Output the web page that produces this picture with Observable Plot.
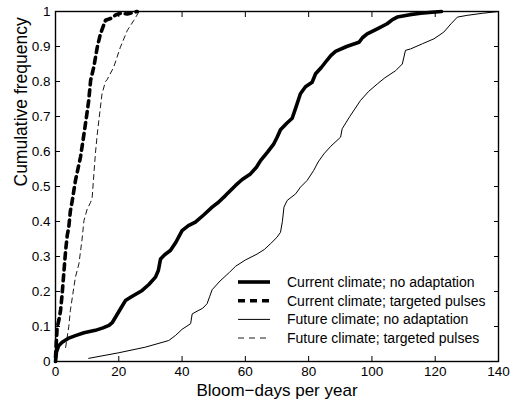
<!DOCTYPE html>
<html>
<head>
<meta charset="utf-8">
<script src="https://cdn.jsdelivr.net/npm/d3@7"></script>
<script src="https://cdn.jsdelivr.net/npm/@observablehq/plot@0.6"></script>
<style>
  html, body { margin: 0; padding: 0; background: white; }
  #chart { width: 515px; height: 400px; position: relative; }
</style>
</head>
<body>
<div id="chart"></div>
<script>
// ---- Data ----
const seriesNames = [
  "Current climate; no adaptation",
  "Current climate; targeted pulses",
  "Future climate; no adaptation",
  "Future climate; targeted pulses"
];

const currentNoAdaptX = [0, 0.3, 1, 2.1, 4, 6.3, 9, 12.6, 15, 16.9, 18, 19, 20.5, 22.1, 24, 27.4, 29.5, 31.6, 32.5, 33.2, 34.5, 36.3, 38, 40, 42, 44.2, 47, 49.5, 51.5, 53.7, 56.9, 59, 61.6, 63.5, 64.8, 67, 69, 70, 71.1, 73, 74.8, 76, 77.4, 79, 81.1, 82.2, 84, 85.3, 87, 88.5, 92, 95.9, 97, 98.5, 102, 104.8, 106.5, 108, 112, 115.4, 119, 122];
const currentNoAdaptY = [0, 0.027, 0.045, 0.055, 0.066, 0.074, 0.082, 0.089, 0.096, 0.103, 0.112, 0.127, 0.15, 0.174, 0.185, 0.203, 0.22, 0.241, 0.26, 0.293, 0.305, 0.317, 0.34, 0.374, 0.388, 0.398, 0.42, 0.441, 0.455, 0.474, 0.503, 0.52, 0.536, 0.555, 0.574, 0.598, 0.622, 0.64, 0.662, 0.68, 0.695, 0.727, 0.765, 0.785, 0.798, 0.822, 0.84, 0.855, 0.874, 0.886, 0.9, 0.912, 0.925, 0.936, 0.952, 0.965, 0.977, 0.984, 0.991, 0.995, 0.998, 1.0];

const currentPulsesX = [0, 0.5, 1.1, 1.6, 2.1, 2.6, 3.2, 3.7, 4.2, 4.7, 5.3, 6.3, 7.9, 9.0, 9.8, 10.5, 11.1, 12.1, 13.2, 14.2, 15.8, 17.4, 19, 20.5, 22.7, 25.8];
const currentPulsesY = [0.012, 0.095, 0.12, 0.146, 0.193, 0.25, 0.317, 0.36, 0.384, 0.43, 0.46, 0.517, 0.584, 0.65, 0.7, 0.746, 0.803, 0.841, 0.898, 0.936, 0.975, 0.98, 0.99, 0.995, 0.993, 1.0];

const futureNoAdaptX = [10.5, 20, 28.4, 35.8, 38, 40, 42.7, 43.2, 45, 46.5, 47.9, 48.7, 49.5, 52, 55, 56.9, 60, 63.7, 66, 67.9, 70, 71.1, 71.7, 72.2, 73.2, 75.9, 77.4, 79.5, 81.6, 83, 84.8, 87, 90.1, 90.6, 93, 96.4, 99, 101.7, 104, 107.5, 109.6, 110.6, 112.2, 116, 119.6, 122.7, 125, 127, 130.1, 135, 140];
const futureNoAdaptY = [0.009, 0.025, 0.041, 0.06, 0.075, 0.092, 0.108, 0.136, 0.145, 0.152, 0.165, 0.185, 0.205, 0.23, 0.255, 0.272, 0.29, 0.307, 0.32, 0.336, 0.355, 0.369, 0.4, 0.441, 0.46, 0.479, 0.498, 0.517, 0.546, 0.57, 0.593, 0.615, 0.641, 0.665, 0.7, 0.746, 0.772, 0.793, 0.81, 0.831, 0.85, 0.889, 0.893, 0.908, 0.922, 0.941, 0.965, 0.984, 0.989, 0.995, 1.0];

const futurePulsesX = [3.2, 4.2, 4.7, 5.8, 6.3, 7.4, 8.4, 9.0, 10.0, 11.1, 11.6, 12.6, 13.2, 14.7, 15.8, 16.3, 18.4, 20.5, 22.7, 24.7, 26.3, 27];
const futurePulsesY = [0.04, 0.1, 0.146, 0.212, 0.241, 0.279, 0.35, 0.403, 0.435, 0.455, 0.47, 0.593, 0.65, 0.765, 0.8, 0.805, 0.841, 0.898, 0.946, 0.974, 0.998, 1.0];

const xTicks = [0, 20, 40, 60, 80, 100, 120, 140];
const xTickLabels = ["0", "20", "40", "60", "80", "100", "120", "140"];
const yTicks = [0, 0.1, 0.2, 0.3, 0.4, 0.5, 0.6, 0.7, 0.8, 0.9, 1];
const yTickLabels = ["0", "0.1", "0.2", "0.3", "0.4", "0.5", "0.6", "0.7", "0.8", "0.9", "1"];
const xTitle = "Bloom\u2212days per year";
const yTitle = "Cumulative frequency";

// ---- Build tables ----
const zip = (xs, ys) => xs.map((x, i) => ({x, y: ys[i]}));
const curNo = zip(currentNoAdaptX, currentNoAdaptY);
const curPul = zip(currentPulsesX, currentPulsesY);
const futNo = zip(futureNoAdaptX, futureNoAdaptY);
const futPul = zip(futurePulsesX, futurePulsesY);

const styles = [
  {strokeWidth: 3.6, dash: null},
  {strokeWidth: 3.6, dash: "6,5"},
  {strokeWidth: 1, dash: null},
  {strokeWidth: 0.9, dash: "5,4"}
];

const font = "'Liberation Sans', Arial, Helvetica, sans-serif";

const chart = Plot.plot({
  width: 515,
  height: 400,
  marginLeft: 55,
  marginRight: 17,
  marginTop: 11,
  marginBottom: 39,
  style: {fontFamily: font, fontSize: "13px", color: "black", background: "white", overflow: "visible"},
  x: {domain: [0, 140]},
  y: {domain: [0, 1]},
  marks: [
    Plot.line(curNo, {x: "x", y: "y", stroke: "black", strokeWidth: styles[0].strokeWidth, strokeLinejoin: "round", strokeLinecap: "round"}),
    Plot.line(curPul, {x: "x", y: "y", stroke: "black", strokeWidth: styles[1].strokeWidth, strokeDasharray: styles[1].dash}),
    Plot.line(futNo, {x: "x", y: "y", stroke: "black", strokeWidth: styles[2].strokeWidth}),
    Plot.line(futPul, {x: "x", y: "y", stroke: "black", strokeWidth: styles[3].strokeWidth, strokeDasharray: styles[3].dash}),
    Plot.frame({stroke: "black", strokeWidth: 1.4}),
    Plot.axisX({anchor: "bottom", ticks: xTicks, tickSize: -5, tickPadding: 10, tickFormat: (d, i) => xTickLabels[i], label: null, fontSize: 13.5}),
    Plot.axisX({anchor: "top", ticks: xTicks, tickSize: -5, tickFormat: () => "", label: null}),
    Plot.axisY({anchor: "left", ticks: yTicks, tickSize: -5, tickPadding: 10, tickFormat: (d, i) => yTickLabels[i], label: null, fontSize: 13.5}),
    Plot.axisY({anchor: "right", ticks: yTicks, tickSize: -5, tickFormat: () => "", label: null}),
    Plot.text([xTitle], {frameAnchor: "bottom", dy: 29, fontSize: 17, lineAnchor: "middle", text: d => d}),
    Plot.text([yTitle], {frameAnchor: "left", dx: -34, rotate: -90, fontSize: 17.5, lineAnchor: "middle", text: d => d})
  ]
});

document.getElementById("chart").appendChild(chart);

// ---- Legend (inside plot, lower right, no box) ----
const svg = d3.select(chart);
const leg = svg.append("g")
  .attr("font-family", font)
  .attr("font-size", 14)
  .attr("text-anchor", "start");
const rowY = [282, 300.8, 319.4, 338];
seriesNames.forEach((name, i) => {
  const ln = leg.append("line")
    .attr("x1", 238).attr("x2", 270)
    .attr("y1", rowY[i]).attr("y2", rowY[i])
    .attr("stroke", "black")
    .attr("stroke-width", styles[i].strokeWidth);
  if (styles[i].dash) ln.attr("stroke-dasharray", i === 1 ? "7,5" : "6,5");
  leg.append("text")
    .attr("x", 287).attr("y", rowY[i])
    .attr("dy", "0.35em")
    .attr("text-anchor", "start")
    .attr("fill", "black")
    .text(name);
});
</script>
</body>
</html>
